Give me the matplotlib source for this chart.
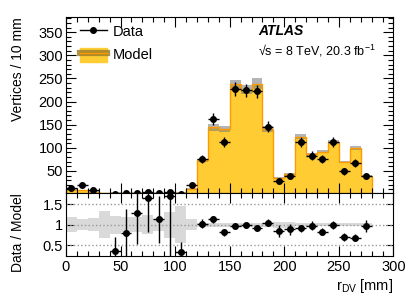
import numpy as np
import matplotlib
matplotlib.use("Agg")
import matplotlib.pyplot as plt
from matplotlib.lines import Line2D
from matplotlib.patches import Patch

plt.rcParams['font.family'] = ['Liberation Sans', 'DejaVu Sans']
plt.rcParams['mathtext.fontset'] = 'custom'
plt.rcParams['mathtext.rm'] = 'Liberation Sans'
plt.rcParams['mathtext.it'] = 'Liberation Sans:italic'
plt.rcParams['font.size'] = 10.5

# 10 mm bins from 0 to 280 mm
edges = np.arange(0, 290, 10)
centers = edges[:-1] + 5

# observed vertices per bin (nan = empty bin)
data = [14, 20, 8, np.nan, 1, 2, 3, 4, 3, 4, 1, 20, 75, 162, 113, 227, 224, 222,
        146, 29, 38, 113, 83, 76, 112, 49, 67, 38]
data_err = [3.7, 4.5, 2.8, np.nan, 1.0, 1.4, 1.7, 2.0, 1.7, 2.0, 1.0, 4.5, 8.7, 12.7,
            10.6, 15.1, 15.0, 14.9, 12.1, 5.4, 6.2, 10.6, 9.1, 8.7, 10.6, 7.0, 8.2, 6.2]

# model prediction and its relative uncertainty
model = [9, 8, 5, 1.5, 2.9, 2.5, 2.3, 2.4, 2.65, 2.35, 3, 11, 73, 144, 140, 237, 226,
         239, 141, 35, 43, 124, 86, 92, 113, 69, 99, 40]
model_rel = [0.19, 0.14, 0.16, 0.33, 0.22, 0.18, 0.19, 0.23, 0.15, 0.32, 0.45, 0.14,
             0.045, 0.05, 0.045, 0.045, 0.045, 0.05, 0.045, 0.08, 0.08, 0.04, 0.04,
             0.04, 0.04, 0.04, 0.04, 0.04]

# data / model ratio (nan = off scale)
ratio = [np.nan, np.nan, np.nan, np.nan, 0.35, 0.80, 1.30, 1.66, 1.14, 1.71, 0.33,
         np.nan, 1.03, 1.13, 0.81, 0.96, 1.0, 0.93, 1.05, 0.85, 0.89, 0.91, 0.98,
         0.83, 1.0, 0.70, 0.68, 0.97]
ratio_lo = [0, 0, 0, 0, 0.5, 0.7, 0.78, 0.85, 0.58, 1.5, 0.33, 0, 0.11, 0.09, 0.076,
            0.064, 0.066, 0.062, 0.086, 0.15, 0.14, 0.086, 0.106, 0.095, 0.094,
            0.10, 0.083, 0.15]
ratio_hi = [0, 0, 0, 0, 0.35, 0.58, 0.8, 0.9, 0.57, 1.5, 0.24, 0, 0.11, 0.09, 0.076,
            0.064, 0.066, 0.062, 0.086, 0.15, 0.14, 0.086, 0.106, 0.095, 0.094,
            0.10, 0.083, 0.15]

yellow = '#ffcc33'
orange = '#ff9900'

model = np.array(model)
model_rel = np.array(model_rel)

fig = plt.figure(figsize=(4.15, 2.98), dpi=100)
ax = fig.add_axes([0.159, 0.352, 0.789, 0.591])
axr = fig.add_axes([0.159, 0.141, 0.789, 0.211], sharex=ax)

# main panel
ax.stairs(model, edges, fill=True, color=yellow, lw=0)
ax.stairs(model * (1 + model_rel), edges, baseline=model * (1 - model_rel),
          fill=True, color='#777777', alpha=0.55, lw=0)
ax.stairs(model, edges, color=orange, lw=1)
ax.errorbar(centers, data, yerr=data_err, xerr=5, fmt='o', ms=4, color='k',
            lw=1, capsize=0)

ax.set_xlim(0, 300)
ax.set_ylim(2, 383)
ax.set_yticks([50, 100, 150, 200, 250, 300, 350])
ax.set_yticks(np.arange(10, 381, 10), minor=True)
ax.set_xticks(np.arange(0, 301, 50))
ax.set_xticks(np.arange(0, 301, 10), minor=True)
ax.tick_params(labelbottom=False)
ax.set_ylabel('Vertices / 10 mm', loc='top', fontsize=10)
ax.yaxis.set_label_coords(-0.125, 1.0)

ax.text(0.587, 0.92, 'ATLAS', transform=ax.transAxes, fontsize=10, fontweight='bold',
        fontstyle='italic', va='center')
ax.text(0.585, 0.81, '\u221as = 8 TeV, 20.3 fb$^{-1}$', transform=ax.transAxes,
        fontsize=9, va='center')

h_data = Line2D([], [], color='k', marker='o', ms=4, lw=1)
h_model = (Patch(facecolor=yellow, edgecolor=yellow),
           Line2D([], [], color='#a0802a', lw=4.5, alpha=0.85),
           Line2D([], [], color=orange, lw=1))
ax.legend([h_data, h_model], ['Data', 'Model'], loc='upper left', frameon=False,
          fontsize=10.5, handlelength=1.85, handleheight=1.1, labelspacing=0.6,
          borderaxespad=0.55, handletextpad=0.4, bbox_to_anchor=(0, 1.04))

# ratio panel
axr.stairs(1 + model_rel, edges, baseline=1 - model_rel, fill=True,
           color='#d9d9d9', lw=0)
for yv in [0.5, 1.0, 1.5]:
    axr.axhline(yv, color='#999999', ls=':', lw=1)
axr.errorbar(centers, ratio, yerr=[ratio_lo, ratio_hi], xerr=5, fmt='o', ms=4,
             color='k', lw=1, capsize=0)
axr.set_ylim(0.23, 1.78)
axr.set_yticks([0.5, 1.0, 1.5])
axr.set_yticklabels(['0.5', '1', '1.5'])
axr.set_xticks(np.arange(0, 301, 50))
axr.set_xticks(np.arange(0, 301, 10), minor=True)
axr.set_ylabel('Data / Model', fontsize=10)
axr.yaxis.set_label_coords(-0.125, 0.38)
axr.set_xlabel('r$_{\\mathrm{DV}}$ [mm]', loc='right', fontsize=10.5)
axr.xaxis.set_label_coords(1.0, -0.33)

for a in (ax, axr):
    a.tick_params(which='both', direction='in', top=True, right=True)
    a.tick_params(which='major', length=7, width=0.8)
    a.tick_params(which='minor', length=3.5, width=0.8)
    a.tick_params(axis='x', pad=3)
    a.tick_params(axis='y', pad=2)
axr.tick_params(axis='y', which='major', length=5)

fig.savefig('out.png', dpi=100)
